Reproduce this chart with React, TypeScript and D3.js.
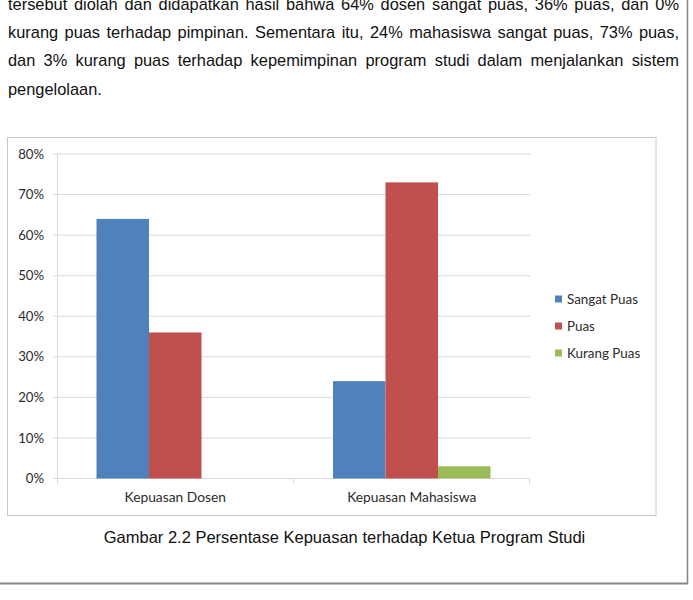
import React, { useEffect, useRef } from 'react';
import * as d3 from 'd3';

const categories = ['Kepuasan Dosen', 'Kepuasan Mahasiswa'];
const seriesNames = ['Sangat Puas', 'Puas', 'Kurang Puas'];
const seriesColors = ['#4f81bd', '#c0504d', '#9bbb59'];
const sangatPuas = [64, 24];
const puas = [36, 73];
const kurangPuas = [0, 3];
const yTicks = [0, 10, 20, 30, 40, 50, 60, 70, 80];

const paragraphLines = [
  'tersebut diolah dan didapatkan hasil bahwa 64% dosen sangat puas, 36% puas, dan 0%',
  'kurang puas terhadap pimpinan. Sementara itu, 24% mahasiswa sangat puas, 73% puas,',
  'dan 3% kurang puas terhadap kepemimpinan program studi dalam menjalankan sistem',
  'pengelolaan.',
];
const caption = 'Gambar 2.2 Persentase Kepuasan terhadap Ketua Program Studi';

function App() {
  const svgRef = useRef<SVGSVGElement>(null);

  useEffect(() => {
    const svg = d3.select(svgRef.current);
    svg.selectAll('*').remove();

    const values = [sangatPuas, puas, kurangPuas];
    const bodyFont = '"Liberation Sans", Arial, sans-serif';
    const chartFont = 'Lato, "Open Sans", sans-serif';

    // page frame (right and bottom edges of the scanned page)
    svg.append('line').attr('x1', 687.5).attr('x2', 687.5).attr('y1', 0).attr('y2', 584)
      .attr('stroke', '#888').attr('stroke-width', 1.5);
    svg.append('line').attr('x1', 0).attr('x2', 688.2).attr('y1', 583.5).attr('y2', 583.5)
      .attr('stroke', '#888').attr('stroke-width', 2);

    // justified paragraph
    const textLeft = 8, textRight = 679;
    const para = svg.append('g').attr('font-family', bodyFont).attr('font-size', 16.4).attr('fill', '#111');
    paragraphLines.forEach((line, i) => {
      const baseline = 10 + i * 28.2;
      const words = line.split(' ');
      const last = i === paragraphLines.length - 1;
      const widths = words.map(w => {
        const t = para.append('text').text(w);
        const wd = (t.node() as SVGTextElement).getComputedTextLength();
        t.remove();
        return wd;
      });
      const total = d3.sum(widths);
      const gap = last ? 4.5 : Math.max(2.5, (textRight - textLeft - total) / (words.length - 1));
      let x = textLeft;
      words.forEach((w, j) => {
        para.append('text').attr('x', x).attr('y', baseline).text(w);
        x += widths[j] + gap;
      });
    });

    // chart box
    svg.append('rect').attr('x', 7.5).attr('y', 137.5).attr('width', 648.5).attr('height', 378)
      .attr('fill', '#fff').attr('stroke', '#c8c8c8').attr('stroke-width', 1);

    const x0 = d3.scaleBand<string>().domain(categories).range([57, 530]).padding(0);
    const x1 = d3.scaleBand<string>().domain(seriesNames).range([0, x0.bandwidth()]).paddingInner(0).paddingOuter(0.752);
    const y = d3.scaleLinear().domain([0, 80]).range([478.5, 154]);

    const g = svg.append('g');

    // gridlines
    g.selectAll('line.grid').data(yTicks).enter().append('line')
      .attr('x1', 53).attr('x2', 530)
      .attr('y1', d => y(d)).attr('y2', d => y(d))
      .attr('stroke', '#d9d9d9').attr('stroke-width', 1);

    // y axis line
    g.append('line').attr('x1', 57.5).attr('x2', 57.5).attr('y1', y(80)).attr('y2', y(0))
      .attr('stroke', '#d9d9d9');

    // x axis ticks
    const xTickPos = [57.5, 57 + x0.bandwidth(), 529.5];
    g.selectAll('line.xt').data(xTickPos).enter().append('line')
      .attr('x1', d => d).attr('x2', d => d).attr('y1', y(0)).attr('y2', y(0) + 5)
      .attr('stroke', '#d9d9d9');

    // y tick labels
    g.selectAll('text.yl').data(yTicks).enter().append('text')
      .attr('x', 44).attr('y', d => y(d)).attr('dy', '0.35em')
      .attr('text-anchor', 'end').attr('font-family', chartFont).attr('font-size', 13.2)
      .attr('fill', '#2b2b2b').text(d => `${d}%`);

    // bars
    values.forEach((vals, si) => {
      g.selectAll(`rect.s${si}`).data(vals).enter().append('rect')
        .attr('x', (d, ci) => (x0(categories[ci]) as number) + (x1(seriesNames[si]) as number))
        .attr('y', d => y(d))
        .attr('width', x1.bandwidth())
        .attr('height', d => y(0) - y(d))
        .attr('fill', seriesColors[si]);
    });

    // category labels
    g.selectAll('text.cat').data(categories).enter().append('text')
      .attr('x', d => (x0(d) as number) + x0.bandwidth() / 2).attr('y', 501.5)
      .attr('text-anchor', 'middle').attr('font-family', chartFont).attr('font-size', 13.8)
      .attr('fill', '#2b2b2b').text(d => d);

    // legend
    const legend = g.append('g').attr('font-family', chartFont).attr('font-size', 13.4).attr('fill', '#2b2b2b');
    seriesNames.forEach((name, i) => {
      const cy = 299 + i * 27;
      legend.append('rect').attr('x', 555).attr('y', cy - 3.5).attr('width', 7).attr('height', 7)
        .attr('fill', seriesColors[i]);
      legend.append('text').attr('x', 567).attr('y', cy).attr('dy', '0.35em').text(name);
    });

    // caption
    svg.append('text').attr('x', 344.5).attr('y', 542.5).attr('text-anchor', 'middle')
      .attr('font-family', bodyFont).attr('font-size', 16.5).attr('fill', '#111').text(caption);
  }, []);

  return (
    <svg ref={svgRef} width={693} height={600}
      style={{ position: 'absolute', left: 0, top: 0, background: '#fff' }} />
  );
}

export default App;
